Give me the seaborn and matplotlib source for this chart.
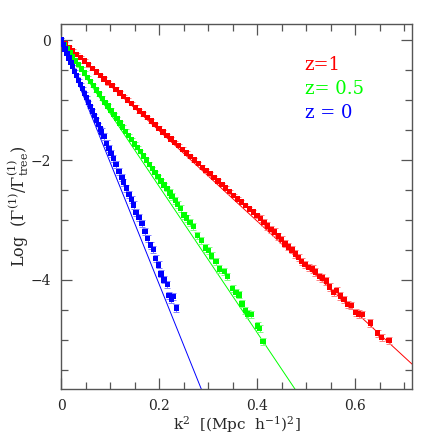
import numpy as np
import pandas as pd
import matplotlib
matplotlib.use("Agg")
import matplotlib.pyplot as plt
import seaborn as sns

# --- data: k^2 and Log(Gamma1 / Gamma1_tree) ---
k2_z1 = [0.000, 0.008, 0.016, 0.024, 0.032, 0.040, 0.048, 0.056, 0.064, 0.072,
         0.080, 0.088, 0.096, 0.104, 0.112, 0.120, 0.128, 0.136, 0.144, 0.152,
         0.160, 0.168, 0.176, 0.184, 0.192, 0.200, 0.208, 0.216, 0.224, 0.232,
         0.240, 0.248, 0.256, 0.264, 0.272, 0.280, 0.288, 0.296, 0.304, 0.312,
         0.320, 0.328, 0.336, 0.344, 0.352, 0.360, 0.368, 0.376, 0.384, 0.392,
         0.400, 0.407, 0.414, 0.421, 0.428, 0.436, 0.443, 0.450, 0.457, 0.464,
         0.471, 0.478, 0.485, 0.491, 0.498, 0.505, 0.513, 0.519, 0.527, 0.533,
         0.541, 0.548, 0.556, 0.562, 0.570, 0.577, 0.585, 0.592, 0.601, 0.607,
         0.614, 0.631, 0.646, 0.654, 0.669]
log_z1 = [0.00, -0.06, -0.12, -0.18, -0.24, -0.29, -0.35, -0.41, -0.47, -0.53,
          -0.59, -0.65, -0.71, -0.76, -0.82, -0.88, -0.94, -1.00, -1.06, -1.12,
          -1.18, -1.23, -1.29, -1.35, -1.41, -1.47, -1.53, -1.59, -1.65, -1.71,
          -1.76, -1.82, -1.88, -1.94, -2.00, -2.06, -2.12, -2.18, -2.23, -2.29,
          -2.35, -2.41, -2.47, -2.53, -2.59, -2.65, -2.70, -2.76, -2.82, -2.87,
          -2.93, -2.98, -3.04, -3.10, -3.16, -3.20, -3.27, -3.33, -3.40, -3.45,
          -3.50, -3.57, -3.63, -3.69, -3.74, -3.79, -3.82, -3.87, -3.94, -3.97,
          -4.02, -4.12, -4.21, -4.18, -4.27, -4.33, -4.41, -4.43, -4.55, -4.57,
          -4.58, -4.72, -4.89, -4.96, -5.01]

k2_z05 = [0.000, 0.006, 0.012, 0.018, 0.024, 0.030, 0.036, 0.042, 0.048, 0.054,
          0.060, 0.066, 0.072, 0.078, 0.084, 0.090, 0.096, 0.102, 0.108, 0.114,
          0.120, 0.126, 0.132, 0.138, 0.144, 0.150, 0.156, 0.162, 0.168, 0.174,
          0.180, 0.186, 0.192, 0.198, 0.204, 0.210, 0.216, 0.222, 0.226, 0.233,
          0.238, 0.244, 0.251, 0.256, 0.263, 0.270, 0.278, 0.286, 0.295, 0.301,
          0.307, 0.316, 0.323, 0.333, 0.339, 0.350, 0.357, 0.363, 0.369, 0.376,
          0.381, 0.388, 0.401, 0.405, 0.412]
log_z05 = [0.00, -0.07, -0.14, -0.21, -0.28, -0.35, -0.41, -0.48, -0.55, -0.62,
           -0.69, -0.76, -0.83, -0.90, -0.97, -1.04, -1.10, -1.17, -1.24, -1.31,
           -1.38, -1.45, -1.52, -1.59, -1.66, -1.73, -1.79, -1.86, -1.93, -2.00,
           -2.07, -2.14, -2.21, -2.28, -2.35, -2.42, -2.48, -2.55, -2.61, -2.68,
           -2.74, -2.81, -2.92, -2.97, -3.04, -3.11, -3.26, -3.34, -3.47, -3.51,
           -3.60, -3.69, -3.82, -3.86, -3.94, -4.14, -4.21, -4.25, -4.40, -4.51,
           -4.57, -4.58, -4.77, -4.81, -5.03]

k2_z0 = [0.000, 0.004, 0.008, 0.012, 0.016, 0.020, 0.024, 0.028, 0.032, 0.036,
         0.040, 0.044, 0.048, 0.052, 0.056, 0.060, 0.064, 0.068, 0.072, 0.076,
         0.080, 0.083, 0.088, 0.093, 0.098, 0.102, 0.107, 0.112, 0.118, 0.124,
         0.127, 0.133, 0.139, 0.144, 0.148, 0.153, 0.159, 0.165, 0.171, 0.177,
         0.183, 0.188, 0.193, 0.199, 0.204, 0.210, 0.217, 0.220, 0.225, 0.229,
         0.235]
log_z0 = [0.00, -0.07, -0.15, -0.22, -0.30, -0.37, -0.44, -0.52, -0.59, -0.67,
          -0.74, -0.81, -0.89, -0.96, -1.04, -1.11, -1.18, -1.26, -1.33, -1.41,
          -1.48, -1.53, -1.61, -1.72, -1.81, -1.89, -1.97, -2.08, -2.19, -2.29,
          -2.37, -2.47, -2.58, -2.66, -2.75, -2.88, -2.96, -3.06, -3.19, -3.31,
          -3.42, -3.49, -3.64, -3.75, -3.90, -4.00, -4.08, -4.26, -4.33, -4.28,
          -4.47]

# error bar half-widths: small in the dense part, larger in the tails
err_dense = 0.03
err_tail = 0.06

# slopes of the straight lines drawn through the data
fit_slopes = {"z=1": -7.55, "z= 0.5": -12.2, "z = 0": -20.35}

labels = ["z=1", "z= 0.5", "z = 0"]
colors = {"z=1": "#ff0000", "z= 0.5": "#00ff00", "z = 0": "#0000ff"}
err_colors = {"z=1": "#ff8080", "z= 0.5": "#80ff80", "z = 0": "#8080ff"}
tail_start = {"z=1": 0.40, "z= 0.5": 0.22, "z = 0": 0.08}

df = pd.concat([
    pd.DataFrame({"k2": k2_z1, "logr": log_z1, "z": "z=1"}),
    pd.DataFrame({"k2": k2_z05, "logr": log_z05, "z": "z= 0.5"}),
    pd.DataFrame({"k2": k2_z0, "logr": log_z0, "z": "z = 0"}),
], ignore_index=True)
df["err"] = [err_tail if k > tail_start[z] else err_dense for k, z in zip(df["k2"], df["z"])]

sns.set_style("ticks")
plt.rcParams["font.family"] = ["DejaVu Serif"]
plt.rcParams["mathtext.fontset"] = "dejavuserif"

fig = plt.figure(figsize=(4.36, 4.36), dpi=100)
ax = fig.add_axes([0.140, 0.108, 0.805, 0.837])

xlim = (0.0, 0.716)
ylim = (-5.82, 0.27)

# fitted lines
for lab in labels:
    xs = np.array(xlim)
    sns.lineplot(x=xs, y=fit_slopes[lab] * xs, color=colors[lab], lw=0.7, ax=ax)

# error bars
for lab in labels:
    sub = df[df["z"] == lab]
    ax.errorbar(sub["k2"], sub["logr"], yerr=sub["err"], fmt="none",
                ecolor=err_colors[lab], elinewidth=0.7, capsize=2.2, capthick=0.7, zorder=3)

sns.scatterplot(data=df, x="k2", y="logr", hue="z", palette=colors, marker="s",
                s=15, linewidth=0, legend=False, ax=ax, zorder=4)

ax.set_xlim(*xlim)
ax.set_ylim(*ylim)

ax.set_xticks([0, 0.2, 0.4, 0.6])
ax.set_xticklabels(["0", "0.2", "0.4", "0.6"])
ax.set_xticks(np.arange(0, 0.72, 0.05), minor=True)
ax.set_yticks([-4, -2, 0])
ax.set_yticklabels(["\u22124", "\u22122", "0"])
ax.set_yticks(np.arange(-5.5, 0.3, 0.5), minor=True)

ax.tick_params(which="both", direction="in", top=True, right=True,
               color="#555555", labelsize=10, pad=7)
ax.tick_params(which="major", length=8, width=0.9)
ax.tick_params(which="minor", length=5, width=0.9)
for sp in ax.spines.values():
    sp.set_color("#555555")
    sp.set_linewidth(1.0)

ax.set_xlabel(r"k$^2$  [(Mpc  h$^{-1}$)$^2$]", fontsize=11, labelpad=1)
ax.set_ylabel(r"Log  ($\Gamma^{(1)}/\Gamma^{(1)}_{\rm tree}$)", fontsize=11.5, labelpad=0)

for lab, ty in zip(labels, [-0.42, -0.82, -1.22]):
    ax.text(0.497, ty, lab, color=colors[lab], fontsize=13, va="center", ha="left")

fig.savefig("out.png", dpi=100)
